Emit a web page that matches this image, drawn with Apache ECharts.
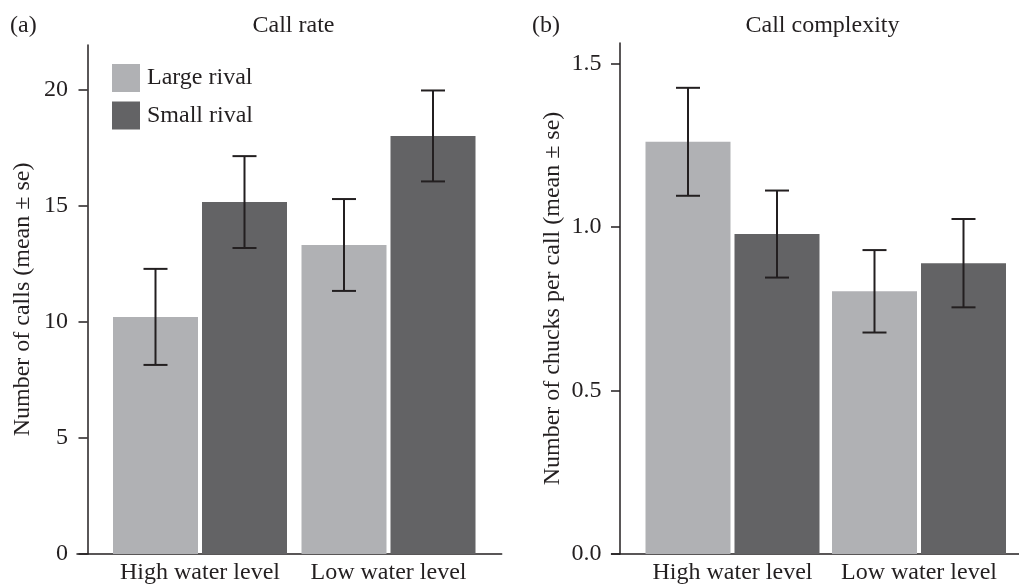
<!DOCTYPE html>
<html>
<head>
<meta charset="utf-8">
<script src="https://cdn.jsdelivr.net/npm/echarts@6/dist/echarts.min.js"></script>
<style>html,body{margin:0;padding:0;background:#fff}#c{width:1019px;height:586px}</style>
</head>
<body>
<div id="c"></div>
<script>
// ---- data ----
const categories = ['High water level', 'Low water level'];
const seriesNames = ['Large rival', 'Small rival'];
// Panel (a) Call rate
const rateLarge = [10.22, 13.32];
const rateLargeSE = [2.07, 1.98];
const rateSmall = [15.17, 18.02];
const rateSmallSE = [1.98, 1.96];
const rateTicks = [0, 5, 10, 15, 20];
// Panel (b) Call complexity
const cplxLarge = [1.26, 0.803];
const cplxLargeSE = [0.165, 0.126];
const cplxSmall = [0.978, 0.889];
const cplxSmallSE = [0.133, 0.135];
const cplxTicks = [0, 0.5, 1.0, 1.5];

const FONT = '"Liberation Serif", "DejaVu Serif", serif';
const FS = 24;
const INK = '#231f20';
const LIGHT = '#b0b1b4';
const DARK = '#636365';
const BARW = 85;
const GAP = 4;

function errSeries(name, grid, means, ses, side) {
  return {
    type: 'custom', name: name + ' err', xAxisIndex: grid, yAxisIndex: grid, z: 5,
    silent: true,
    data: means.map((m, i) => [i, m - ses[i], m + ses[i]]),
    renderItem: function (params, api) {
      const c = api.value(0);
      const lo = api.coord([c, api.value(1)]);
      const hi = api.coord([c, api.value(2)]);
      const x = lo[0] + side * (BARW + GAP) / 2;
      const cap = 12;
      const st = { stroke: INK, lineWidth: 2 };
      return {
        type: 'group', children: [
          { type: 'line', shape: { x1: x, y1: lo[1], x2: x, y2: hi[1] }, style: st },
          { type: 'line', shape: { x1: x - cap, y1: lo[1], x2: x + cap, y2: lo[1] }, style: st },
          { type: 'line', shape: { x1: x - cap, y1: hi[1], x2: x + cap, y2: hi[1] }, style: st }
        ]
      };
    }
  };
}

function yAxisDef(grid, max, ticks, offset, margin, name, gap, fmt) {
  return {
    gridIndex: grid, type: 'value', min: 0, max: max, offset: offset,
    name: name, nameLocation: 'middle', nameGap: gap, nameRotate: 90,
    nameTextStyle: { fontFamily: FONT, fontSize: FS, color: INK },
    axisLine: { show: true, lineStyle: { color: INK, width: 1.5 } },
    axisTick: { show: true, length: 9, lineStyle: { color: INK, width: 1.5 }, customValues: ticks },
    axisLabel: { margin: margin, fontFamily: FONT, fontSize: FS, color: INK, customValues: ticks, formatter: fmt },
    splitLine: { show: false }
  };
}

function xAxisDef(grid) {
  return {
    gridIndex: grid, type: 'category', data: categories,
    axisLine: { show: false }, axisTick: { show: false },
    axisLabel: { interval: 0, hideOverlap: false, margin: 7, fontFamily: FONT, fontSize: FS, color: INK }
  };
}

function frameX(grid) {
  return {
    gridIndex: grid, type: 'value', min: 0, max: 1,
    axisLine: { show: true, onZero: false, lineStyle: { color: INK, width: 1.5 } },
    axisTick: { show: false }, axisLabel: { show: false }, splitLine: { show: false }
  };
}
function frameY(grid) {
  return { gridIndex: grid, type: 'value', show: false, min: 0, max: 1 };
}

const titleStyle = { fontFamily: FONT, fontSize: FS, fontWeight: 'normal', color: INK };

const option = {
  animation: false,
  backgroundColor: '#fff',
  textStyle: { fontFamily: FONT },
  title: [
    { text: '(a)', left: 10, top: 14, padding: 0, textStyle: titleStyle },
    { text: 'Call rate', left: 293.5, top: 14, padding: 0, textAlign: 'center', textStyle: titleStyle },
    { text: '(b)', left: 532, top: 14, padding: 0, textStyle: titleStyle },
    { text: 'Call complexity', left: 822.5, top: 14, padding: 0, textAlign: 'center', textStyle: titleStyle }
  ],
  legend: {
    data: seriesNames, orient: 'vertical', left: 112, top: 64, padding: 0,
    itemWidth: 28, itemHeight: 28, itemGap: 9.5, icon: 'rect',
    textStyle: { fontFamily: FONT, fontSize: FS, color: INK, padding: [0, 0, 0, 2] }
  },
  grid: [
    { left: 105.75, right: 1019 - 482.75, top: 45, bottom: 32 },
    { left: 77, right: 1019 - 501.7, top: 45, bottom: 32 },
    { left: 639.25, right: 1019 - 1012.25, top: 43, bottom: 32 },
    { left: 611.5, right: 0, top: 43, bottom: 32 }
  ],
  xAxis: [xAxisDef(0), frameX(1), xAxisDef(2), frameX(3)],
  yAxis: [
    yAxisDef(0, 21.94, rateTicks, 18.25, 19.5, 'Number of calls (mean \u00b1 se)', 52.5, v => String(v)),
    frameY(1),
    yAxisDef(2, 1.562, cplxTicks, 19.25, 18.5, 'Number of chucks per call (mean \u00b1 se)', 55, v => v.toFixed(1)),
    frameY(3)
  ],
  series: [
    { type: 'bar', name: seriesNames[0], xAxisIndex: 0, yAxisIndex: 0, data: rateLarge, barWidth: BARW, barGap: (GAP / BARW * 100) + '%', itemStyle: { color: LIGHT } },
    { type: 'bar', name: seriesNames[1], xAxisIndex: 0, yAxisIndex: 0, data: rateSmall, barWidth: BARW, barGap: (GAP / BARW * 100) + '%', itemStyle: { color: DARK } },
    { type: 'bar', name: seriesNames[0], xAxisIndex: 2, yAxisIndex: 2, data: cplxLarge, barWidth: BARW, barGap: (GAP / BARW * 100) + '%', itemStyle: { color: LIGHT } },
    { type: 'bar', name: seriesNames[1], xAxisIndex: 2, yAxisIndex: 2, data: cplxSmall, barWidth: BARW, barGap: (GAP / BARW * 100) + '%', itemStyle: { color: DARK } },
    errSeries('Large rival', 0, rateLarge, rateLargeSE, -1),
    errSeries('Small rival', 0, rateSmall, rateSmallSE, 1),
    errSeries('Large rival', 2, cplxLarge, cplxLargeSE, -1),
    errSeries('Small rival', 2, cplxSmall, cplxSmallSE, 1)
  ]
};

const chart = echarts.init(document.getElementById('c'), null, { renderer: 'canvas' });
chart.setOption(option);
</script>
</body>
</html>
